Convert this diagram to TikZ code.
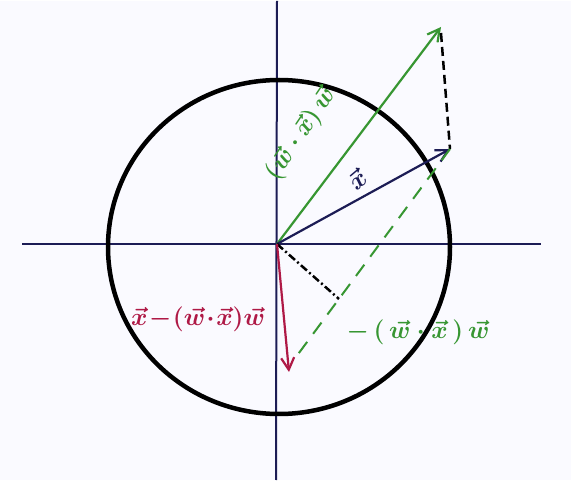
\documentclass[tikz,border=0pt]{standalone}
\usepackage{amsmath,amssymb}
\usetikzlibrary{arrows.meta,positioning}
\definecolor{inkblue}{RGB}{28,28,85}
\definecolor{pengreen}{RGB}{55,150,50}
\definecolor{penred}{RGB}{175,25,70}
\newcommand{\vx}{\vec{x}}
\newcommand{\vw}{\vec{w}}

\begin{document}
\begin{tikzpicture}[x=1pt,y=-1pt,
  axis/.style={draw=inkblue,line width=2pt},
  vecarrow/.style={line width=2.2pt,-{Straight Barb[length=12pt,width=13pt]}},
  lbl/.style={inner sep=1pt,font=\fontsize{27}{30}\selectfont\boldmath}]
  \fill[blue!2] (0,0) rectangle (571,479);
  % axes
  \coordinate (O) at (277,243);
  \coordinate (xl) at (22,243);
  \coordinate (xr) at (541,243);
  \coordinate (yt) at (277,0);
  \coordinate (yb) at (276,479);
  \draw[axis] (xl) -- (xr);
  \draw[axis] (yt) -- (yb);
  % unit circle
  \coordinate (C) at (279,246);
  \draw[line width=4.5pt] (C) ellipse [x radius=171, y radius=167];
  % vectors
  \coordinate (xtip) at (450,148);
  \coordinate (wtip) at (441,26);
  \coordinate (wtop) at (441,32);
  \coordinate (rtip) at (289,371);
  \coordinate (gend) at (293,360);
  \coordinate (perp) at (339,298);
  \draw[vecarrow,draw=pengreen] (O) -- (wtip);
  \draw[vecarrow,draw=inkblue] (O) -- (xtip);
  \draw[line width=2.5pt,dash pattern=on 9pt off 5pt] (wtop) -- (xtip);
  \draw[line width=2pt,draw=pengreen,dash pattern=on 14pt off 10pt] (xtip) -- (gend);
  \draw[line width=2.5pt,dash pattern=on 8pt off 3pt on 2pt off 3pt] (O) -- (perp);
  \draw[vecarrow,draw=penred] (O) -- (rtip);
  % labels
  \node[lbl,text=pengreen,rotate=56,font=\fontsize{30}{34}\selectfont\boldmath] (lblproj) at (301,133) {$(\vw\cdot\vx)\,\vw$};
  \node[lbl,text=inkblue,rotate=40] (lblx) at (357,178) {$\vx$};
  \node[lbl,text=penred] (lblperp) at (198,318) {$\vx\!-\!(\vw\!\cdot\!\vx)\vw$};
  \node[lbl,text=pengreen] (lblneg) at (418,331) {$-\,(\,\vw\cdot\vx\,)\,\vw$};
\end{tikzpicture}
\end{document}
